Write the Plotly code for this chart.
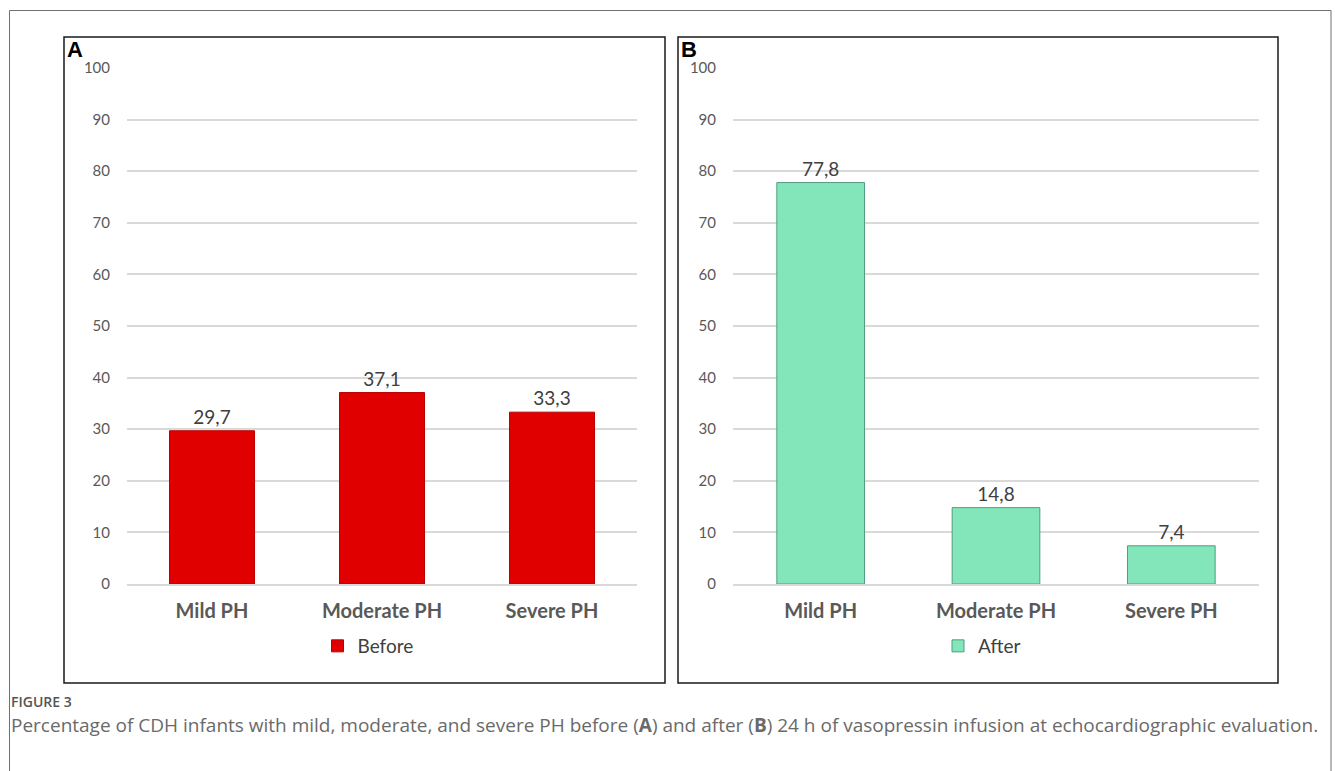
import plotly.graph_objects as go

categories = ["Mild PH", "Moderate PH", "Severe PH"]
before_values = [29.7, 37.1, 33.3]
after_values = [77.8, 14.8, 7.4]
y_ticks = [0, 10, 20, 30, 40, 50, 60, 70, 80, 90, 100]
panel_labels = ["A", "B"]
caption_head = "FIGURE 3"
caption_text = ("Percentage of CDH infants with mild, moderate, and severe PH before (<b>A</b>) and after (<b>B</b>) "
                "24 h of vasopressin infusion at echocardiographic evaluation.")

W, H = 1335, 771
def px(x):
    return x / W
def py(y):
    return 1 - y / H

fig = go.Figure()
fig.add_trace(go.Bar(
    x=categories, y=before_values, name="Before",
    marker=dict(color="#e00000", line=dict(color="#b80000", width=1)),
    texttemplate="%{y:.1f}", textposition="outside", cliponaxis=False,
    textfont=dict(family="Lato", size=19, color="#404040"),
    xaxis="x", yaxis="y", legend="legend", width=0.5,
))
fig.add_trace(go.Bar(
    x=categories, y=after_values, name="After",
    marker=dict(color="#82e6ba", line=dict(color="#4f9e7c", width=1)),
    texttemplate="%{y:.1f}", textposition="outside", cliponaxis=False,
    textfont=dict(family="Lato", size=19, color="#404040"),
    xaxis="x2", yaxis="y2", legend="legend2", width=0.5,
))

ydom = [py(584), py(68)]
yax = dict(range=[0, 100], tickvals=y_ticks, showgrid=True, gridcolor="#d9d9d9", gridwidth=1.5,
           zeroline=False, showline=False, ticks="", ticklabelstandoff=16, automargin=False,
           tickfont=dict(family="Lato", size=15, color="#595959"), domain=ydom, fixedrange=True)
xax = dict(showgrid=False, showline=True, linecolor="#d9d9d9", linewidth=1.5, ticks="",
           automargin=False,
           tickfont=dict(family="Lato", size=20, color="#595959", weight="bold"),
           ticklabelstandoff=8)

fig.update_layout(
    template="none",
    width=W, height=H, margin=dict(l=0, r=0, t=0, b=0, pad=0, autoexpand=False),
    paper_bgcolor="white", plot_bgcolor="white",
    separators=",.",
    xaxis=dict(**xax, domain=[px(127), px(637)], anchor="y"),
    yaxis=dict(**yax, anchor="x"),
    xaxis2=dict(**xax, domain=[px(733), px(1259)], anchor="y2"),
    yaxis2=dict(**yax, anchor="x2"),
    legend=dict(x=px(368), y=py(646), xanchor="center", yanchor="middle", orientation="h",
                font=dict(family="Lato", size=19, color="#404040"), bgcolor="rgba(0,0,0,0)"),
    legend2=dict(x=px(982), y=py(646), xanchor="center", yanchor="middle", orientation="h",
                 font=dict(family="Lato", size=19, color="#404040"), bgcolor="rgba(0,0,0,0)"),
    showlegend=True,
)

shapes = [
    dict(type="rect", xref="paper", yref="paper", x0=px(9.5), x1=px(1331), y0=py(775), y1=py(10.5),
         line=dict(color="#707070", width=1)),
    dict(type="rect", xref="paper", yref="paper", x0=px(64), x1=px(665), y0=py(683), y1=py(37),
         line=dict(color="#1a1a1a", width=1.5)),
    dict(type="rect", xref="paper", yref="paper", x0=px(678), x1=px(1278), y0=py(683), y1=py(37),
         line=dict(color="#1a1a1a", width=1.5)),
]
fig.update_layout(shapes=shapes)

annots = [
    dict(text="<b>%s</b>" % panel_labels[0], x=px(65), y=py(35), xref="paper", yref="paper",
         xanchor="left", yanchor="top", showarrow=False,
         font=dict(family="Liberation Sans", size=22, color="black")),
    dict(text="<b>%s</b>" % panel_labels[1], x=px(679), y=py(35), xref="paper", yref="paper",
         xanchor="left", yanchor="top", showarrow=False,
         font=dict(family="Liberation Sans", size=22, color="black")),
    dict(text=caption_head, x=px(9), y=py(701), xref="paper", yref="paper",
         xanchor="left", yanchor="middle", showarrow=False,
         font=dict(family="Open Sans", size=14, color="#555555", weight=600)),
    dict(text=caption_text, x=px(9), y=py(725), xref="paper", yref="paper",
         xanchor="left", yanchor="middle", showarrow=False,
         font=dict(family="Open Sans", size=19, color="#6a6a6a")),
]
fig.update_layout(annotations=annots)

fig.write_html("out.html")
